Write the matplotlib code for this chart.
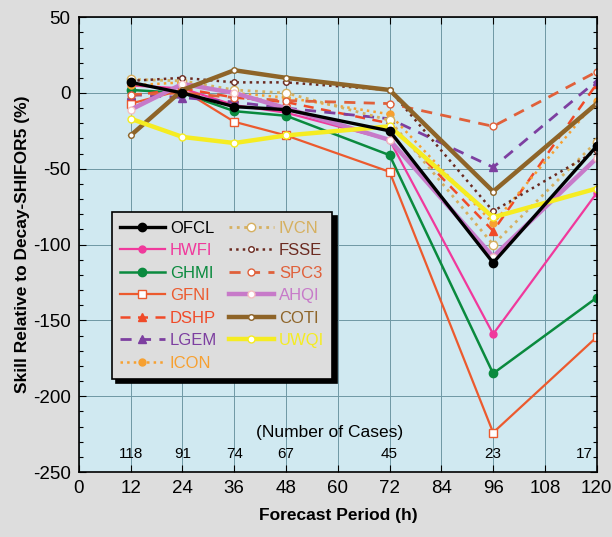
# Skill of intensity models relative to Decay-SHIFOR5
import matplotlib
matplotlib.use('Agg')
import matplotlib.pyplot as plt
import matplotlib.ticker as ticker

plt.rcParams['font.family'] = ['Liberation Sans', 'DejaVu Sans']
plt.rcParams['axes.unicode_minus'] = False

hours = [12, 24, 36, 48, 72, 96, 120]
n_cases = ['118', '91', '74', '67', '45', '23', '17']

ofcl = [7, 0, -9, -11, -25, -112, -35]
hwfi = [5, 3, -8, -13, -31, -159, -66]
ghmi = [2, 0, -12, -15, -41, -185, -135]
gfni = [-7, 2, -19, -28, -52, -224, -161]
dshp = [-2, 3, -3, -6, -20, -91, 6]
lgem = [-1, -3, -6, -10, -17, -49, 8]
icon = [5, 7, 0, -3, -14, -86, -5]
ivcn = [9, 8, 2, 0, -18, -100, -32]
fsse = [8, 10, 7, 7, 2, -78, -38]
spc3 = [-1, 0, -3, -5, -7, -22, 14]
ahqi = [-11, 6, 0, -10, -31, -108, -43]
coti = [-28, 2, 15, 10, 2, -65, -7]
uwqi = [-17, -29, -33, -28, -22, -82, -63]

fig = plt.figure(figsize=(6.12, 5.37), dpi=100)
fig.patch.set_facecolor('#dddddd')
ax = fig.add_axes([0.129, 0.121, 0.846, 0.847])
ax.set_facecolor('#d0e9f1')

ax.plot(hours, ofcl, color='black', lw=2.4, marker='o', ms=6, label='OFCL', zorder=6)
ax.plot(hours, hwfi, color='#f0399c', lw=1.6, marker='o', ms=5, label='HWFI')
ax.plot(hours, ghmi, color='#0a8a3e', lw=1.8, marker='o', ms=6, label='GHMI')
ax.plot(hours, gfni, color='#ec5a2e', lw=1.6, marker='s', ms=6, mfc='white', label='GFNI')
ax.plot(hours, dshp, color='#f04a28', lw=1.8, ls=(0, (4, 3)), marker='^', ms=6, label='DSHP')
ax.plot(hours, lgem, color='#7d3fa0', lw=2, ls=(0, (4, 3)), marker='^', ms=6, label='LGEM')
ax.plot(hours, icon, color='#f7a030', lw=1.8, ls=':', marker='o', ms=5, label='ICON')
ax.plot(hours, ivcn, color='#d6b060', lw=2, ls=':', marker='o', ms=6, mfc='white', label='IVCN')
ax.plot(hours, fsse, color='#6b2a20', lw=1.8, ls=':', marker='o', ms=4, mfc='white', label='FSSE')
ax.plot(hours, spc3, color='#e0603a', lw=2, ls=(0, (4, 3)), marker='o', ms=5, mfc='white', label='SPC3')
ax.plot(hours, ahqi, color='#c77ac9', lw=3.2, marker='o', ms=5, mfc='white', mec='#f5c0c0', label='AHQI')
ax.plot(hours, coti, color='#8e6428', lw=3.2, marker='o', ms=4, mfc='white', label='COTI')
ax.plot(hours, uwqi, color='#f5ec22', lw=3.2, marker='o', ms=5, mfc='white', mec='#f5ec22', label='UWQI')

ax.set_xlim(0, 120)
ax.set_ylim(-250, 50)
ax.xaxis.set_major_locator(ticker.MultipleLocator(12))
ax.yaxis.set_major_locator(ticker.MultipleLocator(50))
ax.yaxis.set_minor_locator(ticker.MultipleLocator(10))
ax.tick_params(which='both', direction='in', top=True, right=True, width=0.8)
ax.tick_params(which='major', length=5, labelsize=13.5, pad=6)
ax.tick_params(which='minor', length=3)
ax.grid(True, which='major', color='#6e98a4', lw=0.7)
for s in ax.spines.values():
    s.set_linewidth(1.2)

for h, n in zip(hours, n_cases):
    ha = 'right' if h == 120 else 'center'
    xo = -1 if h == 120 else 0
    ax.text(h + xo, -238, n, ha=ha, va='center', fontsize=11)
ax.text(58, -224, '(Number of Cases)', ha='center', va='center', fontsize=12.5)

ax.set_xlabel('Forecast Period (h)', fontsize=12.5, fontweight='bold', labelpad=8)
ax.set_ylabel('Skill Relative to Decay-SHIFOR5 (%)', fontsize=12.5, fontweight='bold', labelpad=2)

leg = ax.legend(loc='upper left', bbox_to_anchor=(0.063, 0.571), ncol=2,
                borderaxespad=0, fontsize=12, handlelength=2.7, handletextpad=0.3,
                columnspacing=0.7, labelspacing=0.45, borderpad=0.5,
                frameon=True, fancybox=False,
                shadow={'color': 'black', 'alpha': 1, 'ox': 3, 'oy': -3})
leg.get_frame().set_facecolor('#dddddd')
leg.get_frame().set_edgecolor('black')
leg.get_frame().set_alpha(1)
leg.get_frame().set_linewidth(1.2)
for txt, line in zip(leg.get_texts(), leg.get_lines()):
    txt.set_color(line.get_color())

fig.savefig('out.png', dpi=100, facecolor=fig.get_facecolor())
